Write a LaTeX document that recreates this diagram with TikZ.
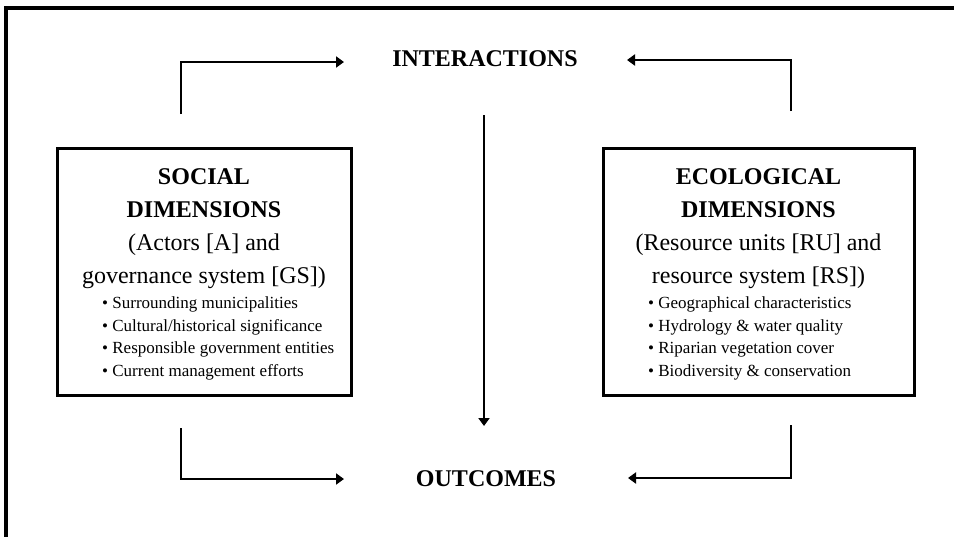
\documentclass[tikz,border=0pt]{standalone}
\usepackage{fontspec}
\setmainfont{Liberation Serif}
\usetikzlibrary{arrows.meta}
\begin{document}
\begin{tikzpicture}[x=1pt,y=-1pt,
  dimbox/.style={draw,line width=3pt,inner sep=0pt},
  ttl/.style={font=\fontsize{24}{28}\selectfont\bfseries,inner sep=0pt,anchor=base},
  sub/.style={font=\fontsize{24}{28}\selectfont,inner sep=0pt,anchor=base},
  itm/.style={font=\fontsize{17}{20}\selectfont,inner sep=0pt,anchor=base west},
  hdr/.style={font=\fontsize{24}{28}\selectfont\bfseries,inner sep=0pt,anchor=base},
  arr/.style={line width=2.8pt,-{Triangle[length=8pt,width=11pt]}}]
\useasboundingbox (0,0) rectangle (954,536);
\fill[white] (0,0) rectangle (954,536);
\draw[line width=3.5pt] (6,8) rectangle (975,560);

% headers
\node[hdr] (int) at (485,66) {INTERACTIONS};
\node[hdr] (out) at (486,486) {OUTCOMES};

% social box
\node[dimbox,minimum width=294pt,minimum height=247pt] (soc) at (204,271.5) {};
\node[ttl] (soc1) at (204,184) {SOCIAL};
\node[ttl] (soc2) at (204,217) {DIMENSIONS};
\node[sub] (soc3) at (204,250) {(Actors [A] and};
\node[sub] (soc4) at (204,283) {governance system [GS])};
\node[itm] (soca) at (102,308.5) {\textbullet\ Surrounding municipalities};
\node[itm] (socb) at (102,331) {\textbullet\ Cultural/historical significance};
\node[itm] (socc) at (102,353.5) {\textbullet\ Responsible government entities};
\node[itm] (socd) at (102,376) {\textbullet\ Current management efforts};

% ecological box
\node[dimbox,minimum width=311pt,minimum height=247pt] (eco) at (758.5,271.5) {};
\node[ttl] (eco1) at (758.5,184) {ECOLOGICAL};
\node[ttl] (eco2) at (758.5,217) {DIMENSIONS};
\node[sub] (eco3) at (758.5,250) {(Resource units [RU] and};
\node[sub] (eco4) at (758.5,283) {resource system [RS])};
\node[itm] (ecoa) at (648,308.5) {\textbullet\ Geographical characteristics};
\node[itm] (ecob) at (648,331) {\textbullet\ Hydrology \& water quality};
\node[itm] (ecoc) at (648,353.5) {\textbullet\ Riparian vegetation cover};
\node[itm] (ecod) at (648,376) {\textbullet\ Biodiversity \& conservation};

% connector coordinates
\coordinate (tlA) at (181,114);
\coordinate (tlB) at (344,62);
\coordinate (trA) at (791,111);
\coordinate (trB) at (627,60);
\coordinate (blA) at (181,428);
\coordinate (blB) at (344,479);
\coordinate (brA) at (791,425);
\coordinate (brB) at (628,478);
\coordinate (mA) at (484,115);
\coordinate (mB) at (484,426);

\draw[arr] (tlA) |- (tlB);
\draw[arr] (trA) |- (trB);
\draw[arr] (blA) |- (blB);
\draw[arr] (brA) |- (brB);
\draw[arr] (mA) -- (mB);
\end{tikzpicture}
\end{document}
